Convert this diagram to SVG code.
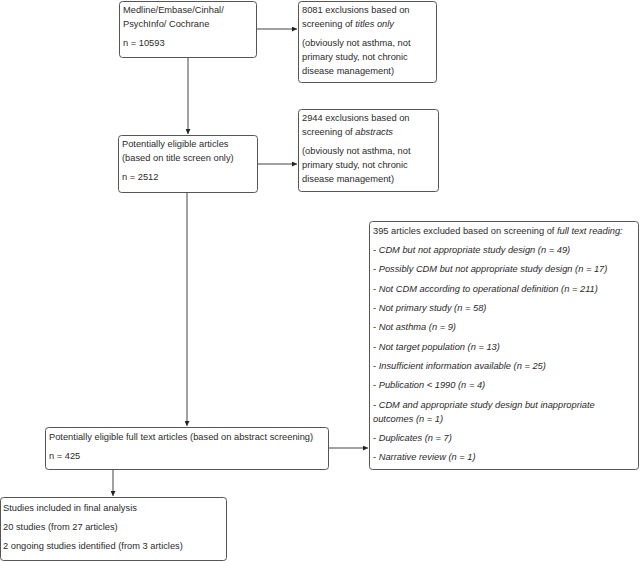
<svg xmlns="http://www.w3.org/2000/svg" width="642" height="562" viewBox="0 0 642 562">
<style>
.box{fill:#fff;stroke:#555;stroke-width:1}
text{font-family:"Liberation Sans",Arial,sans-serif;font-size:9.3px;fill:#2a2a2a}
.i{font-style:italic}
.c{stroke:#444;stroke-width:1;fill:none}
</style>
<defs>
<marker id="ah" viewBox="0 0 6 6" refX="6" refY="3" markerWidth="5" markerHeight="5" orient="auto">
<path d="M0,0 L6,3 L0,6 z" fill="#222"/>
</marker>
</defs>
<g id="connectors">
<line class="c" x1="256" y1="29" x2="297" y2="29" marker-end="url(#ah)"/>
<line class="c" x1="188" y1="57" x2="188" y2="134" marker-end="url(#ah)"/>
<line class="c" x1="257" y1="164" x2="297" y2="164" marker-end="url(#ah)"/>
<line class="c" x1="187" y1="192" x2="187" y2="426" marker-end="url(#ah)"/>
<line class="c" x1="328" y1="448" x2="368" y2="448" marker-end="url(#ah)"/>
<line class="c" x1="113" y1="470" x2="113" y2="496" marker-end="url(#ah)"/>
</g>
<g id="n1">
<rect class="box" x="119.5" y="1.5" width="137" height="56" rx="3"/>
<text x="123" y="13">Medline/Embase/Cinhal/</text>
<text x="123" y="27">PsychInfo/ Cochrane</text>
<text x="123" y="46">n = 10593</text>
</g>
<g id="n2">
<rect class="box" x="298.5" y="1.5" width="138" height="81" rx="3"/>
<text x="302" y="13">8081 exclusions based on</text>
<text x="302" y="27">screening of <tspan class="i">titles only</tspan></text>
<text x="302" y="46">(obviously not asthma, not</text>
<text x="302" y="60">primary study, not chronic</text>
<text x="302" y="74">disease management)</text>
</g>
<g id="n3">
<rect class="box" x="118.5" y="135.5" width="139" height="57" rx="3"/>
<text x="122" y="147">Potentially eligible articles</text>
<text x="122" y="161">(based on title screen only)</text>
<text x="122" y="180">n = 2512</text>
</g>
<g id="n4">
<rect class="box" x="298.5" y="109.5" width="140" height="82" rx="3"/>
<text x="302" y="121">2944 exclusions based on</text>
<text x="302" y="135">screening of <tspan class="i">abstracts</tspan></text>
<text x="302" y="154">(obviously not asthma, not</text>
<text x="302" y="168">primary study, not chronic</text>
<text x="302" y="182">disease management)</text>
</g>
<g id="n5">
<rect class="box" x="369.5" y="221.5" width="269" height="248" rx="3"/>
<text x="373" y="234">395 articles excluded based on screening of <tspan class="i">full text reading:</tspan></text>
<text x="373" y="253">- <tspan class="i">CDM but not appropriate study design (n = 49)</tspan></text>
<text x="373" y="272">- <tspan class="i">Possibly CDM but not appropriate study design (n = 17)</tspan></text>
<text x="373" y="292">- <tspan class="i">Not CDM according to operational definition (n = 211)</tspan></text>
<text x="373" y="311">- <tspan class="i">Not primary study (n = 58)</tspan></text>
<text x="373" y="330">- <tspan class="i">Not asthma (n = 9)</tspan></text>
<text x="373" y="350">- <tspan class="i">Not target population (n = 13)</tspan></text>
<text x="373" y="369">- <tspan class="i">Insufficient information available (n = 25)</tspan></text>
<text x="373" y="388">- <tspan class="i">Publication &lt; 1990 (n = 4)</tspan></text>
<text x="373" y="408">- <tspan class="i">CDM and appropriate study design but inappropriate</tspan></text>
<text x="373" y="422" class="i">outcomes (n = 1)</text>
<text x="373" y="441">- <tspan class="i">Duplicates (n = 7)</tspan></text>
<text x="373" y="460">- <tspan class="i">Narrative review (n = 1)</tspan></text>
</g>
<g id="n6">
<rect class="box" x="45.5" y="427.5" width="283" height="42" rx="3"/>
<text x="49" y="440">Potentially eligible full text articles (based on abstract screening)</text>
<text x="49" y="459">n = 425</text>
</g>
<g id="n7">
<rect class="box" x="0.5" y="497.5" width="226" height="63" rx="3"/>
<text x="3" y="511">Studies included in final analysis</text>
<text x="3" y="530">20 studies (from 27 articles)</text>
<text x="3" y="549">2 ongoing studies identified (from 3 articles)</text>
</g>
</svg>
